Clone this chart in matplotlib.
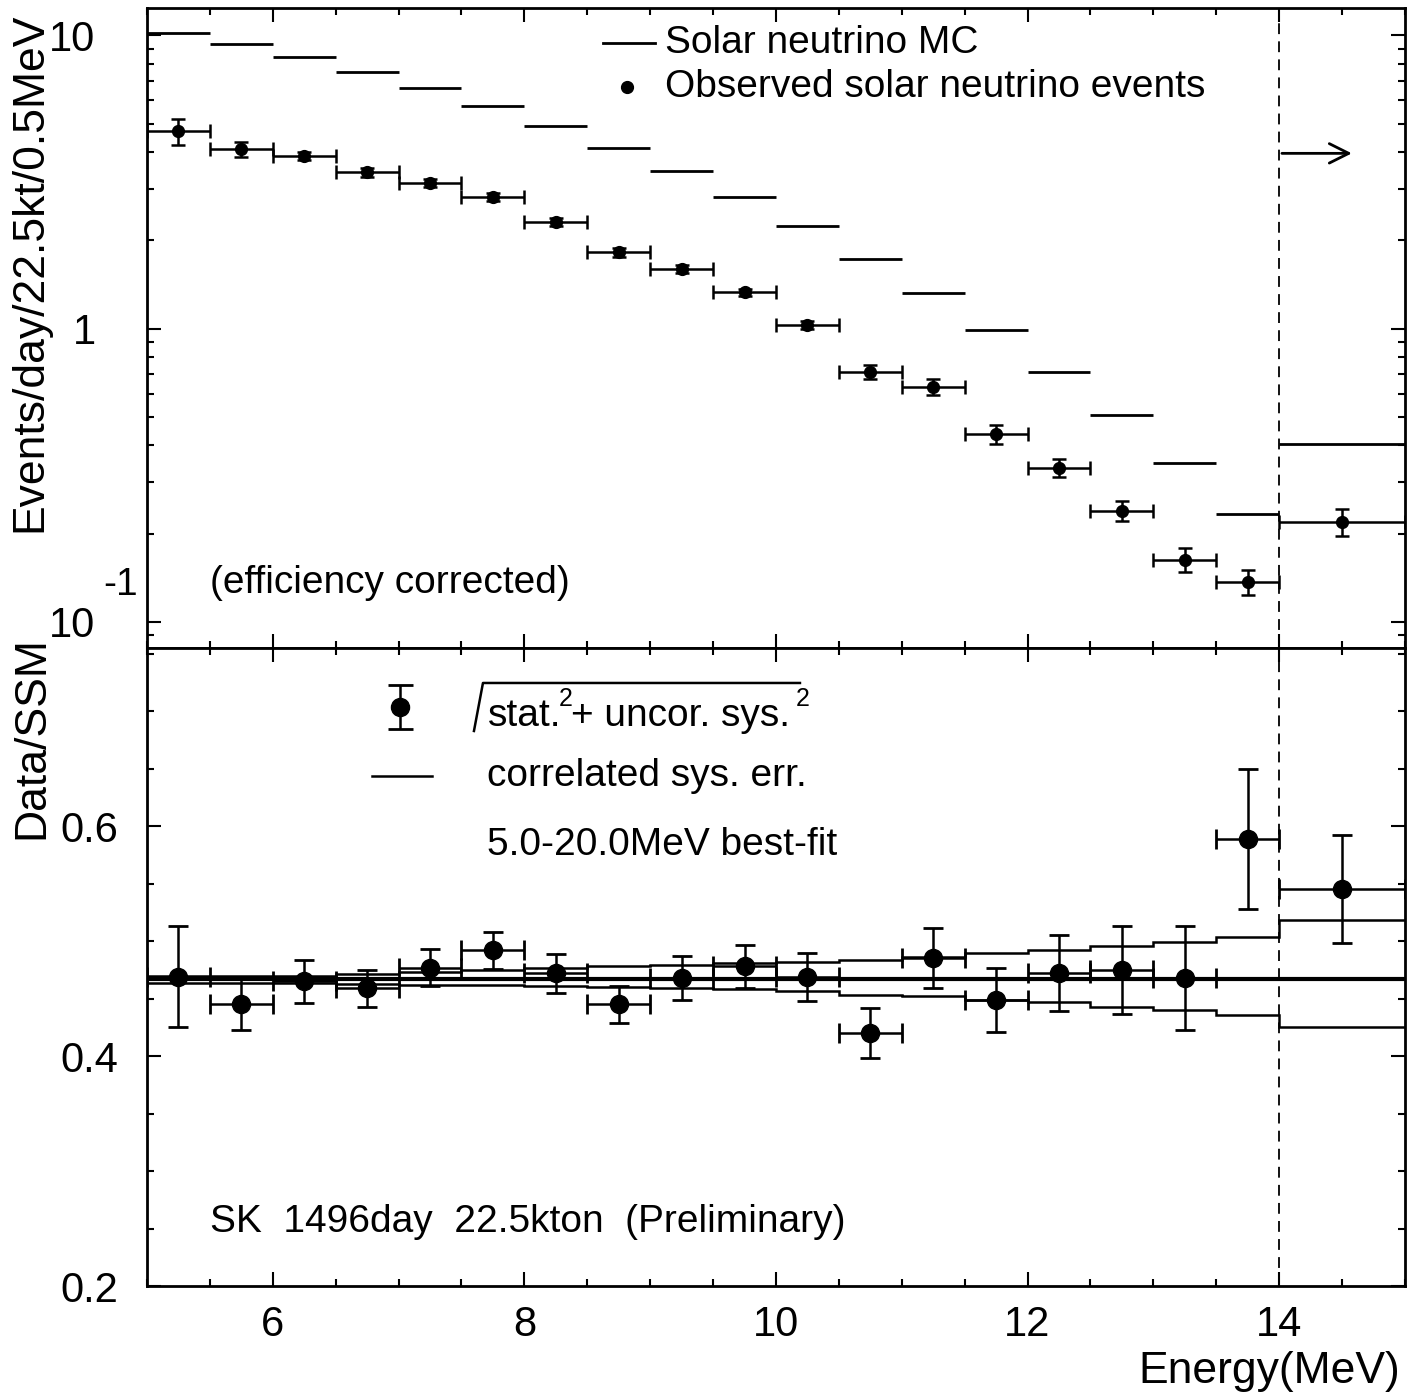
import matplotlib
matplotlib.use("Agg")
import matplotlib.pyplot as plt
from matplotlib.ticker import MultipleLocator, LogLocator, NullFormatter

plt.rcParams['font.family'] = ['Liberation Sans', 'DejaVu Sans']

# energy bins (MeV): centres and half widths, last bin is 14-20 MeV drawn as 14-15
energy = [5.25, 5.75, 6.25, 6.75, 7.25, 7.75, 8.25, 8.75, 9.25, 9.75,
          10.25, 10.75, 11.25, 11.75, 12.25, 12.75, 13.25, 13.75, 14.5]
half_width = [0.25] * 18 + [0.5]
edges = [5.0, 5.5, 6.0, 6.5, 7.0, 7.5, 8.0, 8.5, 9.0, 9.5, 10.0,
         10.5, 11.0, 11.5, 12.0, 12.5, 13.0, 13.5, 14.0, 15.0]

# top panel: events/day/22.5kt/0.5MeV
mc = [10.2, 9.31, 8.41, 7.48, 6.59, 5.73, 4.90, 4.12, 3.44, 2.81,
      2.23, 1.73, 1.32, 0.99, 0.711, 0.507, 0.348, 0.233, 0.404]
obs = [4.71, 4.09, 3.87, 3.41, 3.13, 2.81, 2.31, 1.82, 1.60, 1.33,
       1.03, 0.713, 0.632, 0.437, 0.335, 0.239, 0.163, 0.137, 0.219]
obs_err = [0.48, 0.23, 0.12, 0.11, 0.10, 0.09, 0.07, 0.06, 0.05, 0.04,
           0.035, 0.04, 0.04, 0.032, 0.024, 0.019, 0.015, 0.0135, 0.023]
arrow_level = 3.96

# bottom panel: Data/SSM
ratio = [0.469, 0.445, 0.465, 0.459, 0.477, 0.492, 0.472, 0.445, 0.468, 0.478,
         0.469, 0.420, 0.485, 0.449, 0.472, 0.475, 0.468, 0.589, 0.545]
ratio_err = [0.044, 0.022, 0.019, 0.016, 0.016, 0.016, 0.017, 0.016, 0.019, 0.019,
             0.021, 0.022, 0.026, 0.028, 0.033, 0.038, 0.045, 0.061, 0.047]
corr_upper = [0.470, 0.470, 0.470, 0.471, 0.473, 0.475, 0.477, 0.478, 0.479, 0.481,
              0.482, 0.484, 0.486, 0.490, 0.492, 0.496, 0.499, 0.504, 0.518]
corr_lower = [0.464, 0.464, 0.464, 0.463, 0.462, 0.462, 0.461, 0.460, 0.459, 0.458,
              0.457, 0.453, 0.452, 0.449, 0.447, 0.443, 0.440, 0.436, 0.425]
best_fit = 0.467

W, H = 1420, 1398
fig = plt.figure(figsize=(W / 100, H / 100), dpi=100)
ax1 = fig.add_axes([0.1035, 0.5365, 0.8859, 0.4578])
ax2 = fig.add_axes([0.1035, 0.0801, 0.8859, 0.4564], sharex=ax1)


def ax2_xy(px, py):
    # pixel position of the reference -> axes fraction of the lower panel
    return (px - 147) / 1258, (1286 - py) / 638


# ---- top panel
ax1.set_yscale('log')
ax1.hlines(mc, edges[:-1], edges[1:], color='k', lw=2)
ax1.errorbar(energy, obs, yerr=obs_err, xerr=half_width, fmt='o', color='k',
             ms=8.5, lw=1.8, capsize=5, capthick=1.8)
ax1.axvline(14, color='k', ls=(0, (6, 4)), lw=1.3)
ax1.annotate('', xy=(14.6, arrow_level), xytext=(14.0, arrow_level),
             arrowprops=dict(arrowstyle='->', lw=2, mutation_scale=35, color='k'))
ax1.set_ylim(0.0815, 12.4)
ax1.set_yticks([0.1, 1, 10])
ax1.set_yticklabels(['10', '1', '10'])
ax1.yaxis.set_minor_locator(LogLocator(base=10, subs=range(2, 10)))
ax1.yaxis.set_minor_formatter(NullFormatter())
ax1.tick_params(axis='x', labelbottom=False)
ax1.tick_params(axis='y', pad=37)
ax1.text(-0.007, 0.134, '-1', transform=ax1.get_yaxis_transform(),
         ha='right', va='center', fontsize=28)

# legend (top)
ax1.plot([0.3625, 0.404], [0.946, 0.946], color='k', lw=2, transform=ax1.transAxes)
ax1.plot([0.3816], [0.876], 'o', color='k', ms=8.5, transform=ax1.transAxes)
ax1.text(0.4118, 0.946, 'Solar neutrino MC', transform=ax1.transAxes,
         va='center', fontsize=28)
ax1.text(0.4118, 0.876, 'Observed solar neutrino events', transform=ax1.transAxes,
         va='center', fontsize=28)
ax1.text(0.05, 0.1016, '(efficiency corrected)', transform=ax1.transAxes,
         va='center', fontsize=28)

# ---- bottom panel
ax2.stairs(corr_upper, edges, color='k', lw=1.8, baseline=None)
ax2.stairs(corr_lower, edges, color='k', lw=1.8, baseline=None)
ax2.axhline(best_fit, color='k', lw=3)
ax2.errorbar(energy, ratio, yerr=ratio_err, xerr=half_width, fmt='o', color='k',
             ms=13, lw=1.8, capsize=7, capthick=2)
ax2.axvline(14, color='k', ls=(0, (6, 4)), lw=1.3)
ax2.set_ylim(0.2, 0.755)
ax2.yaxis.set_minor_locator(MultipleLocator(0.05))
ax2.set_yticks([0.2, 0.4, 0.6])
ax2.set_yticklabels(['0.2', '0.4', '0.6'])
ax2.tick_params(axis='y', pad=21)

# legend (bottom)
lx, ly = ax2_xy(400, 707)
ax2.errorbar([lx], [ly], yerr=[0.0345], fmt='o', color='k', ms=13, lw=1.8,
             capsize=9, capthick=2, transform=ax2.transAxes)
# square root sign drawn by hand, PAW style
x0, y0 = ax2_xy(474, 731)
x1, y1 = ax2_xy(483, 683)
x2, _ = ax2_xy(800, 683)
ax2.plot([x0, x1, x2], [y0, y1, y1], color='k', lw=1.8, transform=ax2.transAxes)
_, ty = ax2_xy(0, 716)
_, sy = ax2_xy(0, 699)
ax2.text(ax2_xy(488, 0)[0], ty, 'stat.', transform=ax2.transAxes, va='center', fontsize=28)
ax2.text(ax2_xy(559, 0)[0], sy, '2', transform=ax2.transAxes, va='center', fontsize=18)
ax2.text(ax2_xy(571, 0)[0], ty, '+ uncor. sys.', transform=ax2.transAxes,
         va='center', fontsize=28)
ax2.text(ax2_xy(796, 0)[0], sy, '2', transform=ax2.transAxes, va='center', fontsize=18)

c0, cy = ax2_xy(372, 776)
c1, _ = ax2_xy(432, 776)
ax2.plot([c0, c1], [cy, cy], color='k', lw=1.8, transform=ax2.transAxes)
ax2.text(0.2703, cy, 'correlated sys. err.', transform=ax2.transAxes,
         va='center', fontsize=28)
ax2.text(0.2703, ax2_xy(0, 845)[1], '5.0-20.0MeV best-fit', transform=ax2.transAxes,
         va='center', fontsize=28)
ax2.text(0.05, 0.1003, 'SK  1496day  22.5kton  (Preliminary)', transform=ax2.transAxes,
         va='center', fontsize=28)

ax2.set_xlim(5, 15)
ax2.xaxis.set_minor_locator(MultipleLocator(0.5))
ax2.set_xticks([6, 8, 10, 12, 14])
ax2.tick_params(axis='x', pad=14)

for ax in (ax1, ax2):
    ax.tick_params(which='both', direction='in', top=True, right=True,
                   labelsize=30, width=1.5)
    ax.tick_params(which='major', length=10)
    ax.tick_params(which='minor', length=5)
    for s in ax.spines.values():
        s.set_linewidth(2)

fig.text(30 / W, 1 - 272 / H, 'Events/day/22.5kt/0.5MeV', rotation=90,
         ha='center', va='center', fontsize=32)
fig.text(32 / W, 1 - 738 / H, 'Data/SSM', rotation=90,
         ha='center', va='center', fontsize=32)
fig.text(1400 / W, 1 - 1372 / H, 'Energy(MeV)', ha='right', va='center',
         fontsize=32)

fig.savefig('out.png', dpi=100)
